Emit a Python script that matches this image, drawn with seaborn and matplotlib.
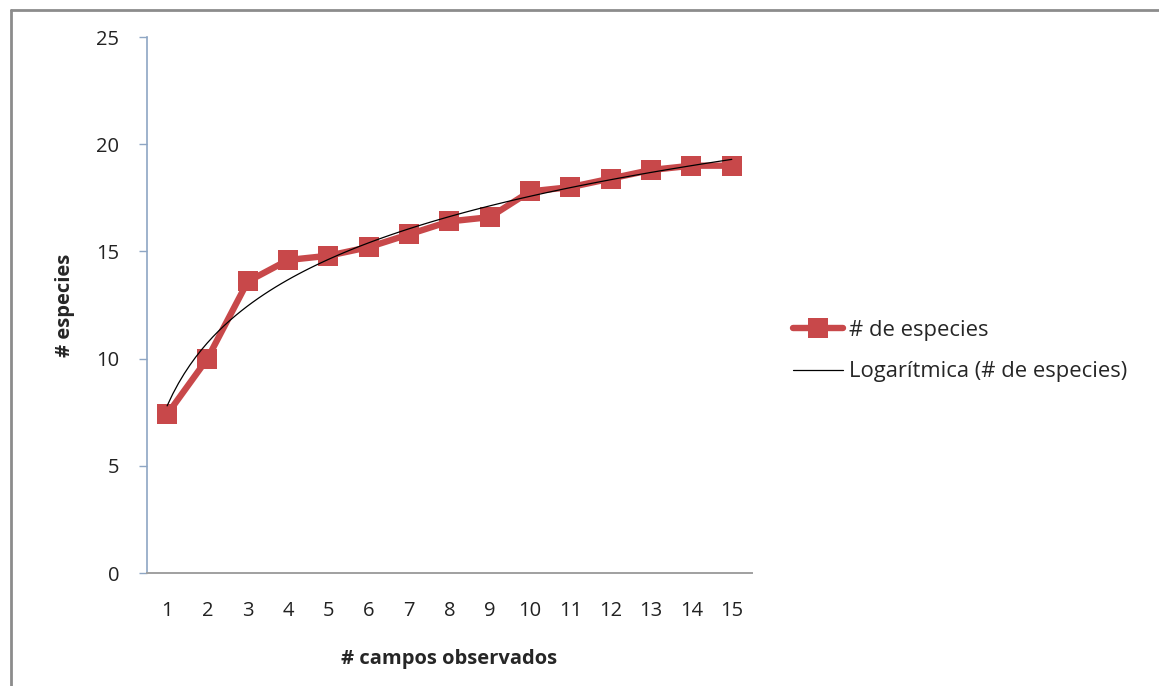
import pandas as pd
import numpy as np
import matplotlib
matplotlib.use('Agg')
import matplotlib.pyplot as plt
from matplotlib.lines import Line2D
import seaborn as sns

# Data
campos = [1, 2, 3, 4, 5, 6, 7, 8, 9, 10, 11, 12, 13, 14, 15]
especies = [7.4, 10.0, 13.6, 14.6, 14.8, 15.2, 15.8, 16.4, 16.6, 17.8, 18.0, 18.4, 18.8, 19.0, 19.0]
y_ticks = [0, 5, 10, 15, 20, 25]

df = pd.DataFrame({'campos': campos, 'especies': especies})

sns.set_style('white')
plt.rcParams['font.family'] = ['Open Sans', 'DejaVu Sans']

red = '#C8484A'

fig = plt.figure(figsize=(11.59, 6.86), dpi=100)
ax = fig.add_axes([0.1268, 0.1647, 0.522, 0.7813])

# data series
sns.lineplot(data=df, x='campos', y='especies', ax=ax, color=red, linewidth=4.6,
             marker='s', markersize=14, markeredgewidth=0, label='# de especies')

# logarithmic trendline
sns.regplot(data=df, x='campos', y='especies', ax=ax, logx=True, ci=None,
            scatter=False, line_kws={'color': 'black', 'linewidth': 0.9},
            label='Logarítmica (# de especies)')

ax.set_xlim(0.5, 15.5)
ax.set_ylim(0, 25)
ax.set_xticks(campos)
ax.set_yticks(y_ticks)
ax.tick_params(axis='x', length=0, pad=20, labelsize=14.5, colors='#222222')
ax.tick_params(axis='y', length=6, width=1, color='#8EA6C4', pad=14, labelsize=14.5,
               labelcolor='#222222', left=True)

ax.set_xlabel('# campos observados', fontsize=14.5, fontweight='bold', labelpad=20)
ax.set_ylabel('# especies', fontsize=14.5, fontweight='bold', labelpad=15)

for s in ['top', 'right']:
    ax.spines[s].set_visible(False)
ax.spines['left'].set_color('#8EA6C4')
ax.spines['left'].set_linewidth(1.2)
ax.spines['bottom'].set_color('#A0A0A0')
ax.spines['bottom'].set_linewidth(1.4)

handles, labels = ax.get_legend_handles_labels()
leg = ax.legend(handles, labels, loc='center left', bbox_to_anchor=(0.667, 0.488),
                bbox_transform=fig.transFigure, frameon=False, fontsize=15.8,
                handlelength=2.3, handletextpad=0.25, labelspacing=0.92)

# outer frame (left and top edges)
fig.add_artist(Line2D([11 / 1159, 11 / 1159], [0, 1 - 10 / 686], transform=fig.transFigure,
                      color='#8C8C8C', linewidth=2))
fig.add_artist(Line2D([11 / 1159, 1], [1 - 10 / 686, 1 - 10 / 686], transform=fig.transFigure,
                      color='#8C8C8C', linewidth=2))

fig.savefig('out.png', dpi=100)
